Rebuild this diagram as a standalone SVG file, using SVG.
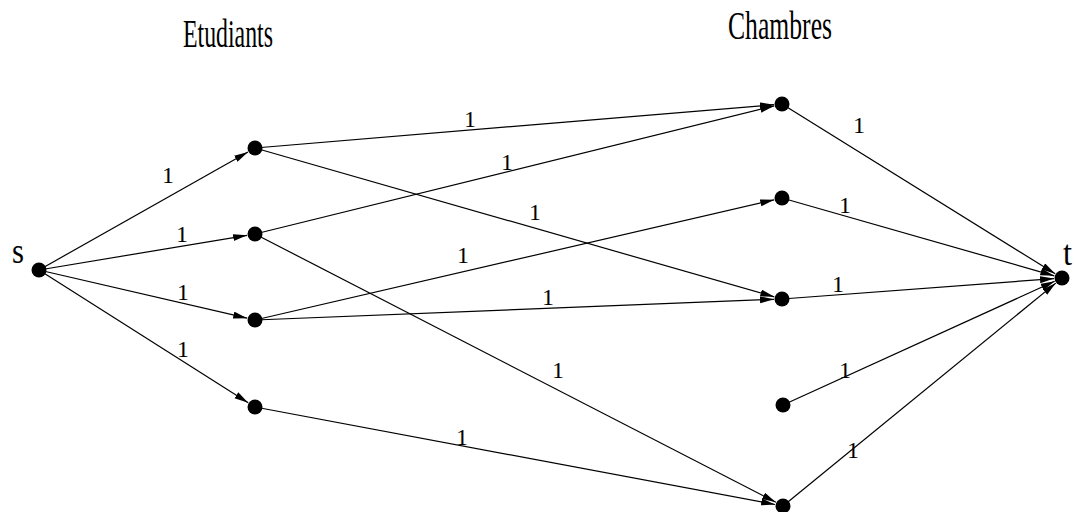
<svg xmlns="http://www.w3.org/2000/svg" width="1075" height="512" viewBox="0 0 1075 512">
  <defs>
    <marker id="arr" markerUnits="userSpaceOnUse" markerWidth="15" markerHeight="8" refX="14" refY="3.5" orient="auto">
      <path d="M0,0 L14,3.5 L0,7 z" fill="#000"/>
    </marker>
  </defs>
  <style>
    .e { stroke: #000; stroke-width: 1.2; fill: none; marker-end: url(#arr); }
    .n { fill: #000; }
    .t { font-family: "Liberation Serif", "Times New Roman", serif; fill: #000; }
    .lbl { font-size: 24px; text-anchor: middle; }
  </style>
  <rect width="1075" height="512" fill="#fff"/>

  <text class="t" x="183" y="47" font-size="39" textLength="90" lengthAdjust="spacingAndGlyphs">Etudiants</text>
  <text class="t" x="728" y="39" font-size="39" textLength="104" lengthAdjust="spacingAndGlyphs">Chambres</text>

  <g id="connectors">
    <line class="e" x1="39" y1="270" x2="248.0" y2="151.9"/>
    <line class="e" x1="39" y1="270" x2="247.1" y2="235.3"/>
    <line class="e" x1="39" y1="270" x2="247.2" y2="318.2"/>
    <line class="e" x1="39" y1="270" x2="248.2" y2="402.7"/>
    <line class="e" x1="255" y1="148" x2="774.0" y2="104.7"/>
    <line class="e" x1="255" y1="148" x2="774.3" y2="296.8"/>
    <line class="e" x1="255" y1="234" x2="774.2" y2="105.9"/>
    <line class="e" x1="255" y1="234" x2="775.9" y2="502.3"/>
    <line class="e" x1="255" y1="320" x2="774.2" y2="199.8"/>
    <line class="e" x1="255" y1="320" x2="774.0" y2="299.3"/>
    <line class="e" x1="255" y1="407" x2="775.1" y2="504.5"/>
    <line class="e" x1="782" y1="104" x2="1055.2" y2="273.8"/>
    <line class="e" x1="782" y1="198" x2="1054.3" y2="275.8"/>
    <line class="e" x1="782" y1="299" x2="1054.0" y2="278.6"/>
    <line class="e" x1="783" y1="405" x2="1054.7" y2="281.3"/>
    <line class="e" x1="783" y1="506" x2="1055.8" y2="283.1"/>
    <g class="t lbl">
      <text x="168" y="183">1</text>
      <text x="182" y="242">1</text>
      <text x="183" y="300">1</text>
      <text x="183" y="357">1</text>
      <text x="470" y="127">1</text>
      <text x="507" y="170">1</text>
      <text x="535" y="220">1</text>
      <text x="463" y="263">1</text>
      <text x="548" y="305">1</text>
      <text x="558" y="378">1</text>
      <text x="462" y="445">1</text>
      <text x="859" y="133">1</text>
      <text x="845" y="213">1</text>
      <text x="838" y="292">1</text>
      <text x="845" y="378">1</text>
      <text x="853" y="458">1</text>
    </g>
  </g>

  <g id="s"><circle class="n" cx="39" cy="270" r="7.5"/><text class="t" x="12" y="263" font-size="35" textLength="12" lengthAdjust="spacingAndGlyphs">s</text></g>
  <g id="e1"><circle class="n" cx="255" cy="148" r="7.5"/></g>
  <g id="e2"><circle class="n" cx="255" cy="234" r="7.5"/></g>
  <g id="e3"><circle class="n" cx="255" cy="320" r="7.5"/></g>
  <g id="e4"><circle class="n" cx="255" cy="407" r="7.5"/></g>
  <g id="c1"><circle class="n" cx="782" cy="104" r="7.5"/></g>
  <g id="c2"><circle class="n" cx="782" cy="198" r="7.5"/></g>
  <g id="c3"><circle class="n" cx="782" cy="299" r="7.5"/></g>
  <g id="c4"><circle class="n" cx="783" cy="405" r="7.5"/></g>
  <g id="c5"><circle class="n" cx="783" cy="506" r="7.5"/></g>
  <g id="t"><circle class="n" cx="1062" cy="278" r="7.5"/><text class="t" x="1063" y="265" font-size="35" textLength="9" lengthAdjust="spacingAndGlyphs">t</text></g>
</svg>
